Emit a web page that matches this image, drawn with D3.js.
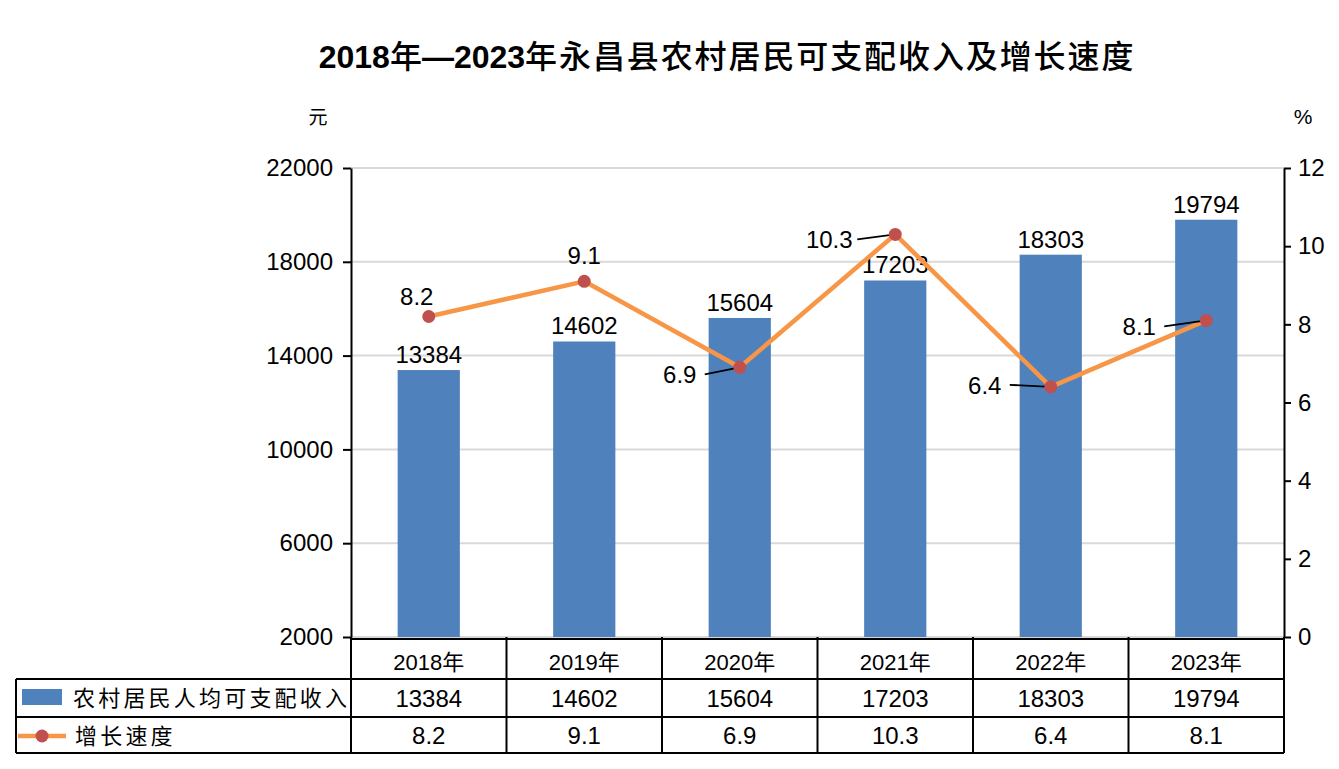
<!DOCTYPE html>
<html>
<head>
<meta charset="utf-8">
<script src="https://cdn.jsdelivr.net/npm/d3@7"></script>
<style>
  body { margin: 0; background: #fff; }
  text { font-family: "Liberation Sans", Arial, "Noto Sans CJK SC", sans-serif; fill: #000; }
  .cjk { font-family: "Noto Sans CJK SC", sans-serif; }
</style>
</head>
<body>
<div id="chart"></div>
<script>
// data
var years = ["2018年", "2019年", "2020年", "2021年", "2022年", "2023年"];
var income = [13384, 14602, 15604, 17203, 18303, 19794];
var growth = [8.2, 9.1, 6.9, 10.3, 6.4, 8.1];
var leftTicks = [2000, 6000, 10000, 14000, 18000, 22000];
var rightTicks = [0, 2, 4, 6, 8, 10, 12];

// label offsets for the growth labels (relative to point), and whether a leader line is drawn
var growthLabelPos = [
    { dx: -12, dy: -20, lead: false },
    { dx: 0, dy: -26, lead: false },
    { dx: -60, dy: 7, lead: true },
    { dx: -66, dy: 5, lead: true },
    { dx: -66, dy: -2, lead: true },
    { dx: -67, dy: 6, lead: true }
];

var width = 1339, height = 769;
var plotLeft = 351, plotRight = 1284, plotTop = 168, plotBottom = 637;
var tableLeft = 16, rowH = [679, 717, 753];

var svg = d3.select("#chart").append("svg")
    .attr("width", width)
    .attr("height", height);

var x = d3.scaleBand().domain(years).range([plotLeft, plotRight]).paddingInner(0).paddingOuter(0);
var yL = d3.scaleLinear().domain([2000, 22000]).range([plotBottom, plotTop]);
var yR = d3.scaleLinear().domain([0, 12]).range([plotBottom, plotTop]);

// title
var title = svg.append("text")
    .attr("x", 727)
    .attr("y", 68)
    .attr("text-anchor", "middle")
    .style("font-size", "32px");
title.append("tspan").style("font-weight", "bold").text("2018");
title.append("tspan").attr("class", "cjk").style("font-weight", "500").text("年");
title.append("tspan").style("font-weight", "bold").text("—2023");
title.append("tspan").attr("class", "cjk").style("font-weight", "500")
    .style("letter-spacing", "1.9px").text("年永昌县农村居民可支配收入及增长速度");

// units
svg.append("text").attr("class", "cjk").attr("x", 318).attr("y", 124)
    .attr("text-anchor", "middle").style("font-size", "19px").text("元");
svg.append("text").attr("x", 1303).attr("y", 124)
    .attr("text-anchor", "middle").style("font-size", "21px").text("%");

// gridlines
svg.append("g").selectAll("line")
    .data(leftTicks)
    .enter().append("line")
    .attr("x1", plotLeft).attr("x2", plotRight)
    .attr("y1", function(d) { return yL(d); })
    .attr("y2", function(d) { return yL(d); })
    .attr("stroke", "#d9d9d9")
    .attr("stroke-width", 2);

// bars
var barW = x.bandwidth() * 0.4;
svg.append("g").selectAll("rect")
    .data(income)
    .enter().append("rect")
    .attr("x", function(d, i) { return x(years[i]) + (x.bandwidth() - barW) / 2; })
    .attr("y", function(d) { return yL(d); })
    .attr("width", barW)
    .attr("height", function(d) { return yL(2000) - yL(d); })
    .attr("fill", "#4f81bd");

// bar labels
svg.append("g").selectAll("text")
    .data(income)
    .enter().append("text")
    .attr("x", function(d, i) { return x(years[i]) + x.bandwidth() / 2; })
    .attr("y", function(d) { return yL(d) - 7; })
    .attr("text-anchor", "middle")
    .style("font-size", "24px")
    .text(function(d) { return d; });

// axes
var axL = svg.append("g")
    .attr("transform", "translate(" + plotLeft + ",0)")
    .call(d3.axisLeft(yL).tickValues(leftTicks).tickSize(8).tickSizeOuter(0).tickPadding(10));
var axR = svg.append("g")
    .attr("transform", "translate(" + plotRight + ",0)")
    .call(d3.axisRight(yR).tickValues(rightTicks).tickSize(7).tickSizeOuter(0).tickPadding(7));
[axL, axR].forEach(function(ax) {
    ax.select(".domain").attr("stroke", "#000").attr("stroke-width", 2);
    ax.selectAll(".tick line").attr("stroke", "#000").attr("stroke-width", 2);
    ax.selectAll(".tick text")
        .style("font-size", "24px")
        .style("font-family", "'Liberation Sans', Arial, sans-serif");
});
axL.selectAll(".tick text").text(function(d) { return d; });

// growth line
var cx = function(d, i) { return x(years[i]) + x.bandwidth() / 2; };
var line = d3.line()
    .x(function(d, i) { return cx(d, i); })
    .y(function(d) { return yR(d); });

svg.append("path")
    .datum(growth)
    .attr("d", line)
    .attr("fill", "none")
    .attr("stroke", "#f79646")
    .attr("stroke-width", 4.5)
    .attr("stroke-linejoin", "round");

// leader lines
var leadIdx = d3.range(growth.length).filter(function(i) { return growthLabelPos[i].lead; });
svg.append("g").selectAll("line")
    .data(leadIdx)
    .enter().append("line")
    .attr("x1", function(i) { return cx(growth[i], i) + growthLabelPos[i].dx + (growth[i] >= 10 ? 28 : 25); })
    .attr("y1", function(i) { return yR(growth[i]) + growthLabelPos[i].dy; })
    .attr("x2", function(i) { return cx(growth[i], i); })
    .attr("y2", function(i) { return yR(growth[i]); })
    .attr("stroke", "#000")
    .attr("stroke-width", 1.8);

svg.append("g").selectAll("circle")
    .data(growth)
    .enter().append("circle")
    .attr("cx", cx)
    .attr("cy", function(d) { return yR(d); })
    .attr("r", 6.5)
    .attr("fill", "#c0504d");

svg.append("g").selectAll("text")
    .data(growth)
    .enter().append("text")
    .attr("x", function(d, i) { return cx(d, i) + growthLabelPos[i].dx; })
    .attr("y", function(d, i) { return yR(d) + growthLabelPos[i].dy; })
    .attr("dy", "0.36em")
    .attr("text-anchor", "middle")
    .style("font-size", "24px")
    .text(function(d) { return d.toFixed(1); });

// data table
var tbl = svg.append("g").attr("stroke", "#000").attr("stroke-width", 2);
tbl.append("line").attr("x1", plotLeft).attr("x2", plotRight).attr("y1", plotBottom + 2).attr("y2", plotBottom + 2);
rowH.forEach(function(y) {
    tbl.append("line").attr("x1", tableLeft).attr("x2", plotRight).attr("y1", y).attr("y2", y);
});
tbl.append("line").attr("x1", tableLeft).attr("x2", tableLeft).attr("y1", rowH[0]).attr("y2", rowH[2]);
var bounds = years.map(function(d) { return x(d); }).concat([plotRight]);
tbl.selectAll(".vb")
    .data(bounds)
    .enter().append("line")
    .attr("x1", function(d) { return d; })
    .attr("x2", function(d) { return d; })
    .attr("y1", plotBottom)
    .attr("y2", rowH[2]);

svg.append("g").selectAll("text")
    .data(years)
    .enter().append("text")
    .attr("x", function(d) { return x(d) + x.bandwidth() / 2; })
    .attr("y", 670)
    .attr("text-anchor", "middle")
    .style("font-size", "22px")
    .text(function(d) { return d; });

svg.append("g").selectAll("text")
    .data(income)
    .enter().append("text")
    .attr("x", function(d, i) { return x(years[i]) + x.bandwidth() / 2; })
    .attr("y", 707)
    .attr("text-anchor", "middle")
    .style("font-size", "24px")
    .text(function(d) { return d; });

svg.append("g").selectAll("text")
    .data(growth)
    .enter().append("text")
    .attr("x", function(d, i) { return x(years[i]) + x.bandwidth() / 2; })
    .attr("y", 744)
    .attr("text-anchor", "middle")
    .style("font-size", "24px")
    .text(function(d) { return d.toFixed(1); });

// legend keys in table
svg.append("rect")
    .attr("x", 22).attr("y", 689).attr("width", 40).attr("height", 16)
    .attr("fill", "#4f81bd");
svg.append("text").attr("class", "cjk")
    .attr("x", 73).attr("y", 706)
    .style("font-size", "22px").style("letter-spacing", "3.2px")
    .text("农村居民人均可支配收入");

svg.append("line")
    .attr("x1", 18).attr("x2", 66).attr("y1", 736).attr("y2", 736)
    .attr("stroke", "#f79646").attr("stroke-width", 4.5);
svg.append("circle")
    .attr("cx", 42).attr("cy", 736).attr("r", 6.5)
    .attr("fill", "#c0504d");
svg.append("text").attr("class", "cjk")
    .attr("x", 75).attr("y", 744)
    .style("font-size", "22px").style("letter-spacing", "3.2px")
    .text("增长速度");
</script>
</body>
</html>
